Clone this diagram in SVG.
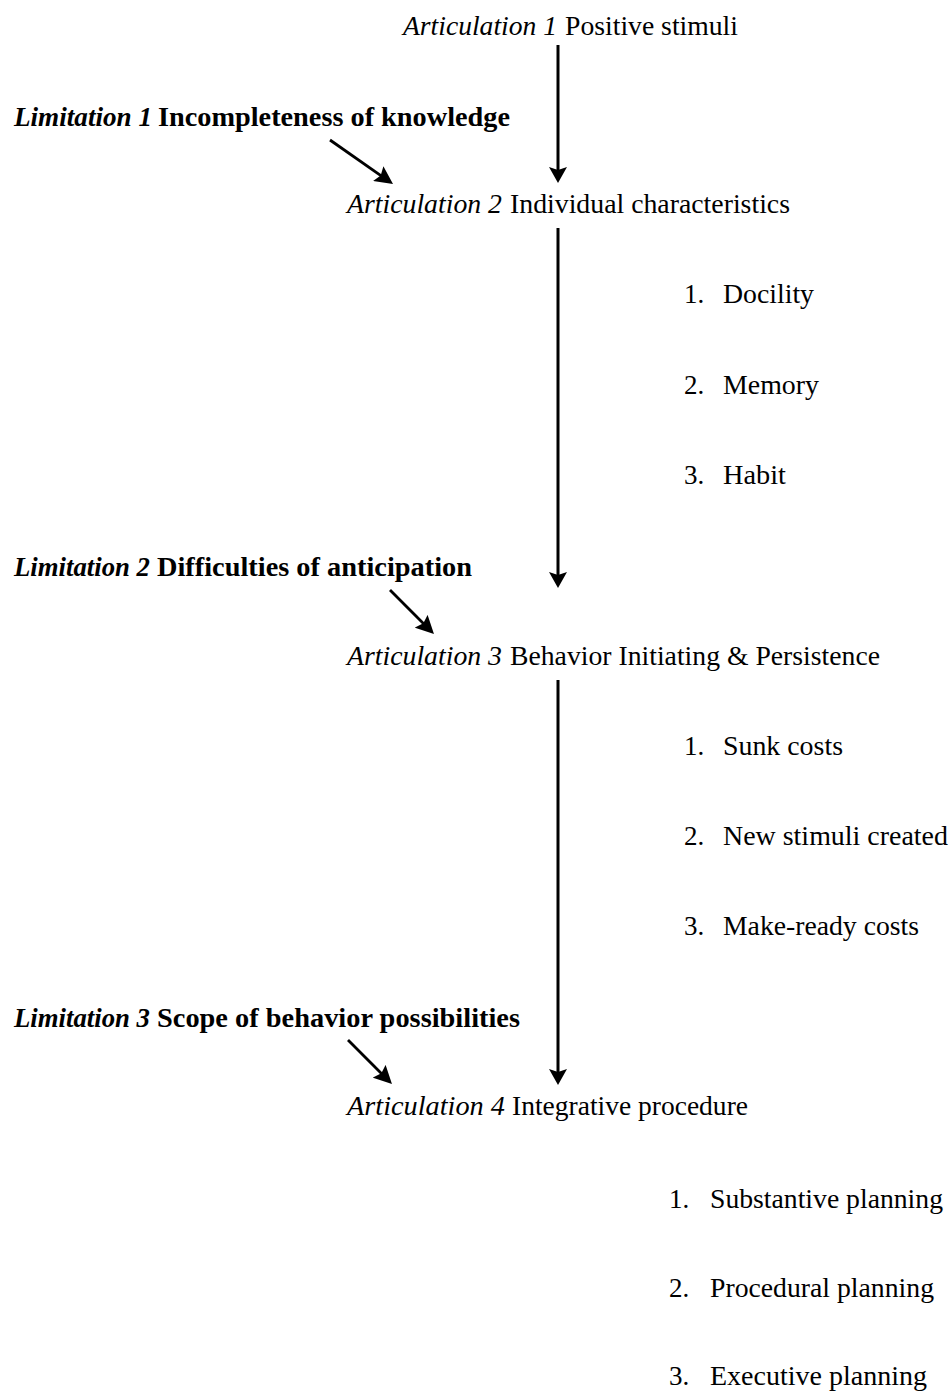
<svg xmlns="http://www.w3.org/2000/svg" width="951" height="1393" viewBox="0 0 951 1393">
<style>
text{font-family:"Liberation Serif","Times New Roman",serif;font-size:27px;fill:#000}
.it{font-style:italic}
.b{font-weight:bold}
.bi{font-weight:bold;font-style:italic}
.main{stroke:#000;stroke-width:3;fill:none}
.diag{stroke:#000;stroke-width:2.8;fill:none}
</style>
<defs>
<marker id="ah" viewBox="0 0 16 18" refX="6" refY="9" markerWidth="16" markerHeight="18" markerUnits="userSpaceOnUse" orient="auto">
<path d="M0,0 L16,9 L0,18 L3,9 Z" fill="#000"/>
</marker>
<marker id="ahs" viewBox="0 0 18 18" refX="8" refY="9" markerWidth="18" markerHeight="18" markerUnits="userSpaceOnUse" orient="auto">
<path d="M0,0 L18,9 L0,18 L3,9 Z" fill="#000"/>
</marker>
</defs>
<rect width="951" height="1393" fill="#fff"/>
<g id="connectors">
<line class="main" x1="558" y1="45" x2="558" y2="173" marker-end="url(#ah)"/>
<line class="main" x1="558" y1="228" x2="558" y2="578" marker-end="url(#ah)"/>
<line class="main" x1="558" y1="680" x2="558" y2="1075" marker-end="url(#ah)"/>
<line class="diag" x1="330" y1="140" x2="384.8" y2="178.3" marker-end="url(#ahs)"/>
<line class="diag" x1="390" y1="590" x2="426.9" y2="626.9" marker-end="url(#ahs)"/>
<line class="diag" x1="348" y1="1040" x2="384.9" y2="1076.9" marker-end="url(#ahs)"/>
</g>
<g id="articulation1">
<text class="it" x="403" y="35" textLength="154" lengthAdjust="spacingAndGlyphs">Articulation 1</text>
<text x="565" y="35" textLength="173" lengthAdjust="spacingAndGlyphs">Positive stimuli</text>
</g>
<g id="limitation1">
<text class="bi" x="14" y="126" textLength="138" lengthAdjust="spacingAndGlyphs">Limitation 1</text>
<text class="b" x="158" y="126" textLength="352" lengthAdjust="spacingAndGlyphs">Incompleteness of knowledge</text>
</g>
<g id="articulation2">
<text class="it" x="347" y="213" textLength="155" lengthAdjust="spacingAndGlyphs">Articulation 2</text>
<text x="510" y="213" textLength="280" lengthAdjust="spacingAndGlyphs">Individual characteristics</text>
</g>
<g id="list1">
<text x="684" y="303">1.</text><text x="723" y="303" textLength="91" lengthAdjust="spacingAndGlyphs">Docility</text>
<text x="684" y="394">2.</text><text x="723" y="394" textLength="96" lengthAdjust="spacingAndGlyphs">Memory</text>
<text x="684" y="484">3.</text><text x="723" y="484" textLength="63" lengthAdjust="spacingAndGlyphs">Habit</text>
</g>
<g id="limitation2">
<text class="bi" x="14" y="576" textLength="136" lengthAdjust="spacingAndGlyphs">Limitation 2</text>
<text class="b" x="157" y="576" textLength="315" lengthAdjust="spacingAndGlyphs">Difficulties of anticipation</text>
</g>
<g id="articulation3">
<text class="it" x="347" y="665" textLength="155" lengthAdjust="spacingAndGlyphs">Articulation 3</text>
<text x="510" y="665" textLength="370" lengthAdjust="spacingAndGlyphs">Behavior Initiating &amp; Persistence</text>
</g>
<g id="list2">
<text x="684" y="755">1.</text><text x="723" y="755" textLength="120" lengthAdjust="spacingAndGlyphs">Sunk costs</text>
<text x="684" y="845">2.</text><text x="723" y="845" textLength="225" lengthAdjust="spacingAndGlyphs">New stimuli created</text>
<text x="684" y="935">3.</text><text x="723" y="935" textLength="196" lengthAdjust="spacingAndGlyphs">Make-ready costs</text>
</g>
<g id="limitation3">
<text class="bi" x="14" y="1027" textLength="136" lengthAdjust="spacingAndGlyphs">Limitation 3</text>
<text class="b" x="157" y="1027" textLength="363" lengthAdjust="spacingAndGlyphs">Scope of behavior possibilities</text>
</g>
<g id="articulation4">
<text class="it" x="347" y="1115" textLength="158" lengthAdjust="spacingAndGlyphs">Articulation 4</text>
<text x="512" y="1115" textLength="236" lengthAdjust="spacingAndGlyphs">Integrative procedure</text>
</g>
<g id="list3">
<text x="669" y="1208">1.</text><text x="710" y="1208" textLength="233" lengthAdjust="spacingAndGlyphs">Substantive planning</text>
<text x="669" y="1297">2.</text><text x="710" y="1297" textLength="224" lengthAdjust="spacingAndGlyphs">Procedural planning</text>
<text x="669" y="1385">3.</text><text x="710" y="1385" textLength="217" lengthAdjust="spacingAndGlyphs">Executive planning</text>
</g>
</svg>
